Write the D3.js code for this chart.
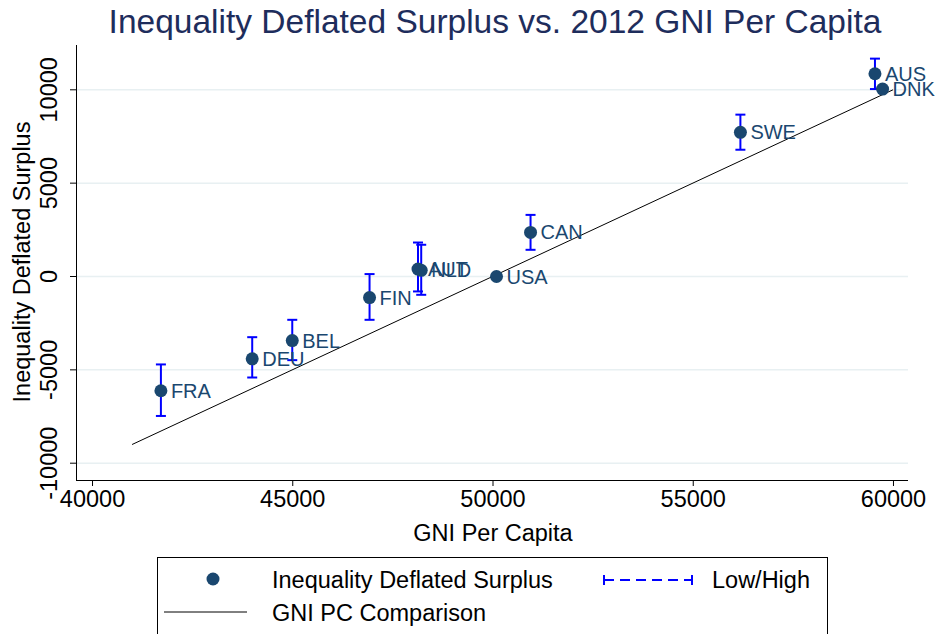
<!DOCTYPE html>
<html>
<head>
<meta charset="utf-8">
<script src="https://cdn.jsdelivr.net/npm/d3@7"></script>
<style>
  body { margin: 0; background: #fff; }
  text { font-family: "Liberation Sans", Arial, sans-serif; }
</style>
</head>
<body>
<script>
// values
var countries = ["FRA", "DEU", "BEL", "FIN", "AUT", "NLD", "USA", "CAN", "SWE", "AUS", "DNK"]
var gni       = [41720, 44000, 45000, 46930, 48140, 48220, 50100, 50950, 56190, 59550, 59740]
var surplus   = [-6120, -4410, -3430, -1130, 400, 330, 0, 2360, 7720, 10860, 10040]
var low       = [-7470, -5410, -4480, -2320, -800, -980, 0, 1430, 6790, 10040, 10040]
var high      = [-4710, -3250, -2320, 130, 1820, 1700, 0, 3300, 8670, 11670, 10040]

var lineX = [41000, 60000]
var lineY = [-9000, 10000]

var xTicks = [40000, 45000, 50000, 55000, 60000]
var yTicks = [-10000, -5000, 0, 5000, 10000]

var navy = "#1a476f"

var svg = d3.select("body").append("svg")
  .attr('width', 938)
  .attr('height', 634)

var x = d3.scaleLinear().domain([39600, 60375]).range([76, 908])
var y = d3.scaleLinear().domain([-10900, 12400]).range([480, 45])

function plain(d) { return String(d) }

svg.append("text")
  .attr('x', 495)
  .attr('y', 33)
  .attr('text-anchor', 'middle')
  .style('font-size', '33.5px')
  .style('fill', '#1e2d5c')
  .text("Inequality Deflated Surplus vs. 2012 GNI Per Capita")

// gridlines
svg.selectAll(".grid")
  .data(yTicks)
  .enter().append("line")
  .attr('x1', 76)
  .attr('x2', 908)
  .attr('y1', function(d) { return y(d) })
  .attr('y2', function(d) { return y(d) })
  .style('stroke', '#e8f0f2')
  .style('stroke-width', 1.5)

// axes
var xAxis = svg.append("g")
  .attr('transform', 'translate(0,480)')
  .call(d3.axisBottom(x).tickValues(xTicks).tickSize(6).tickPadding(4).tickFormat(plain))
xAxis.select(".domain").attr('d', 'M76,0.5H908')
xAxis.selectAll("text").style('font-size', '23.5px').style('fill', '#000')

var yAxis = svg.append("g")
  .attr('transform', 'translate(76,0)')
  .call(d3.axisLeft(y).tickValues(yTicks).tickSize(6).tickFormat(plain))
yAxis.select(".domain").attr('d', 'M0.5,45V480')
yAxis.selectAll("text")
  .style('font-size', '23.5px')
  .style('fill', '#000')
  .attr('text-anchor', 'middle')
  .attr('x', 0)
  .attr('dy', 0)
  .attr('transform', function(d) { return 'translate(-19,' + y(d) + ') rotate(-90)' })
  .attr('y', 0)
yAxis.selectAll(".tick").attr('transform', null)
yAxis.selectAll(".tick line")
  .attr('y1', function(d) { return y(d) })
  .attr('y2', function(d) { return y(d) })

svg.append("text")
  .attr('x', 493)
  .attr('y', 541)
  .attr('text-anchor', 'middle')
  .style('font-size', '23.5px')
  .text("GNI Per Capita")

svg.append("text")
  .attr('transform', 'translate(30,262) rotate(-90)')
  .attr('text-anchor', 'middle')
  .style('font-size', '23.5px')
  .text("Inequality Deflated Surplus")

// comparison line
var line = d3.line()
  .x(function(d, i) { return x(lineX[i]) })
  .y(function(d) { return y(d) })

svg.append("path")
  .datum(lineY)
  .attr('d', line)
  .style('fill', 'none')
  .style('stroke', '#000')
  .style('stroke-width', 1)

// error bars
var bars = svg.selectAll(".bar")
  .data(countries)
  .enter().append("g")

bars.append("line")
  .attr('x1', function(d, i) { return x(gni[i]) })
  .attr('x2', function(d, i) { return x(gni[i]) })
  .attr('y1', function(d, i) { return y(low[i]) })
  .attr('y2', function(d, i) { return y(high[i]) })
  .style('stroke', '#0000ff')
  .style('stroke-width', 2)

bars.append("line")
  .attr('x1', function(d, i) { return x(gni[i]) - 5 })
  .attr('x2', function(d, i) { return x(gni[i]) + 5 })
  .attr('y1', function(d, i) { return y(low[i]) })
  .attr('y2', function(d, i) { return y(low[i]) })
  .style('stroke', '#0000ff')
  .style('stroke-width', 2)

bars.append("line")
  .attr('x1', function(d, i) { return x(gni[i]) - 5 })
  .attr('x2', function(d, i) { return x(gni[i]) + 5 })
  .attr('y1', function(d, i) { return y(high[i]) })
  .attr('y2', function(d, i) { return y(high[i]) })
  .style('stroke', '#0000ff')
  .style('stroke-width', 2)

// points and labels
svg.selectAll(".pt")
  .data(countries)
  .enter().append("circle")
  .attr('cx', function(d, i) { return x(gni[i]) })
  .attr('cy', function(d, i) { return y(surplus[i]) })
  .attr('r', 6.5)
  .style('fill', navy)

svg.selectAll(".lbl")
  .data(countries)
  .enter().append("text")
  .attr('x', function(d, i) { return x(gni[i]) + 10 })
  .attr('y', function(d, i) { return y(surplus[i]) + 7 })
  .style('font-size', '20px')
  .style('fill', navy)
  .text(function(d) { return d })

// legend
var legend = svg.append("g")
legend.append("rect")
  .attr('x', 157.5)
  .attr('y', 557.5)
  .attr('width', 670)
  .attr('height', 90)
  .style('fill', '#fff')
  .style('stroke', '#000')

legend.append("circle")
  .attr('cx', 213)
  .attr('cy', 579)
  .attr('r', 6.5)
  .style('fill', navy)

legend.append("text")
  .attr('x', 272)
  .attr('y', 588)
  .style('font-size', '23.5px')
  .text("Inequality Deflated Surplus")

legend.append("line")
  .attr('x1', 604).attr('x2', 692)
  .attr('y1', 580).attr('y2', 580)
  .style('stroke', '#0000ff')
  .style('stroke-width', 2)
  .style('stroke-dasharray', '10,6')
legend.append("line")
  .attr('x1', 604).attr('x2', 604)
  .attr('y1', 575).attr('y2', 585)
  .style('stroke', '#0000ff')
  .style('stroke-width', 2)
legend.append("line")
  .attr('x1', 692).attr('x2', 692)
  .attr('y1', 575).attr('y2', 585)
  .style('stroke', '#0000ff')
  .style('stroke-width', 2)

legend.append("text")
  .attr('x', 712)
  .attr('y', 588)
  .style('font-size', '23.5px')
  .text("Low/High")

legend.append("line")
  .attr('x1', 164).attr('x2', 247)
  .attr('y1', 612).attr('y2', 612)
  .style('stroke', '#000')
  .style('stroke-width', 1)

legend.append("text")
  .attr('x', 272)
  .attr('y', 621)
  .style('font-size', '23.5px')
  .text("GNI PC Comparison")
</script>
</body>
</html>
